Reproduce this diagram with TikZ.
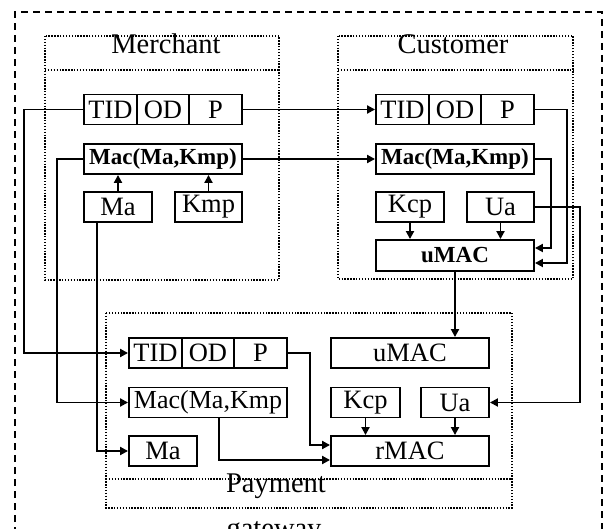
\documentclass[tikz,border=0pt]{standalone}
\usepackage{fontspec}
\setmainfont{Liberation Serif}
\usetikzlibrary{arrows.meta}
\tikzset{
  wire/.style={line width=1.9pt},
  arr/.style={wire, -{Triangle[length=8pt,width=8pt]}},
  blk/.style={draw, line width=1.9pt, inner sep=0pt, minimum height=30pt,
              font=\fontsize{26.5}{30}\selectfont},
  blkb/.style={blk, font=\bfseries\fontsize{23}{27}\selectfont},
  grp/.style={line width=1.4pt, dash pattern=on 1.4pt off 1.5pt},
  outerframe/.style={line width=1.8pt, dash pattern=on 7pt off 5pt},
  title/.style={inner sep=0pt, anchor=base, font=\fontsize{28.5}{32}\selectfont},
}
\begin{document}
\begin{tikzpicture}[x=1pt,y=-1pt]
\useasboundingbox (0,0) rectangle (608,529);
\clip (0,0) rectangle (608,529);

% outer system frame (continues below the page edge)
\draw[outerframe] (15,570) -- (15,12) -- (602,12) -- (602,570);

% party frames
\draw[grp] (45,36) rectangle (279,280);
\draw[grp] (45,70) -- (279,70);
\draw[grp] (338,36) rectangle (573,279);
\draw[grp] (338,70) -- (573,70);
\draw[grp] (106,313) rectangle (512,508);
\draw[grp] (106,479) -- (512,479);

\node[title] (tMer) at (166,53.5) {Merchant};
\node[title] (tCus) at (453,53.5) {Customer};
\node[title] (tPay) at (276,492) {Payment};
\node[title] (tGat) at (274,537) {gateway};

% Merchant
\node[blk, minimum width=53pt] (mTID) at (110.5,109.5) {TID};
\node[blk, minimum width=52pt] (mOD)  at (163,109.5) {OD};
\node[blk, minimum width=53pt] (mP)   at (215.5,109.5) {P};
\node[blkb, minimum width=158pt] (mMac) at (163,159) {Mac(Ma,Kmp)};
\node[blk, minimum width=68pt] (mMa)  at (118,207) {Ma};
\node[blk, minimum width=67pt] (mKmp) at (208.5,207) {Kmp};

% Customer
\node[blk, minimum width=53pt] (cTID) at (402.5,109.5) {TID};
\node[blk, minimum width=52pt] (cOD)  at (455,109.5) {OD};
\node[blk, minimum width=53pt] (cP)   at (507.5,109.5) {P};
\node[blkb, minimum width=158pt] (cMac) at (455,159) {Mac(Ma,Kmp)};
\node[blk, minimum width=68pt] (cKcp) at (410,207) {Kcp};
\node[blk, minimum width=67pt] (cUa)  at (500.5,207) {Ua};
\node[blkb, minimum width=158pt, minimum height=31pt] (cuMAC) at (455,255.5) {uMAC};

% Payment gateway
\node[blk, minimum width=53pt] (pTID) at (155.5,353) {TID};
\node[blk, minimum width=52pt] (pOD)  at (208,353) {OD};
\node[blk, minimum width=53pt] (pP)   at (260.5,353) {P};
\node[blk, minimum width=158pt, font=\fontsize{26}{30}\selectfont] (pMac) at (208,402.5) {Mac(Ma,Kmp};
\node[blk, minimum width=68pt] (pMa)  at (163,451) {Ma};
\node[blk, minimum width=158pt] (puMAC) at (410,353) {uMAC};
\node[blk, minimum width=69pt] (pKcp) at (365.5,402.5) {Kcp};
\node[blk, minimum width=68pt] (pUa)  at (455,402.5) {Ua};
\node[blk, minimum width=158pt] (prMAC) at (410,451) {rMAC};

% merchant internals
\draw[arr] (mMa.north) -- (mMa.north |- mMac.south);
\draw[arr] (mKmp.north) -- (mKmp.north |- mMac.south);

% merchant -> customer
\draw[arr] (mP.east) -- (cTID.west);
\draw[arr] (mMac.east) -- (cMac.west);

% customer internals
\draw[arr] (cKcp.south) -- (cKcp.south |- cuMAC.north);
\draw[arr] (cUa.south) -- (cUa.south |- cuMAC.north);
\draw[arr] (cMac.east) -| ([xshift=16pt,yshift=7.5pt]cuMAC.east) -- ([yshift=7.5pt]cuMAC.east);
\draw[arr] (cP.east) -| ([xshift=32pt,yshift=-7.5pt]cuMAC.east) -- ([yshift=-7.5pt]cuMAC.east);

% customer -> payment gateway
\draw[arr] (cuMAC.south) -- (cuMAC.south |- puMAC.north);
\draw[arr] (cUa.east) -- ++(45,0) |- (pUa.east);

% merchant -> payment gateway
\draw[arr] (mTID.west) -- ++(-59,0) |- (pTID.west);
\draw[arr] (mMac.west) -- ++(-26,0) |- (pMac.west);
\draw[arr] ([xshift=-21pt]mMa.south) |- (pMa.west);

% payment gateway internals
\draw[arr] (pKcp.south) -- (pKcp.south |- prMAC.north);
\draw[arr] (pUa.south) -- (pUa.south |- prMAC.north);
\draw[arr] (pP.east) -- ++(22,0) |- ([yshift=6pt]prMAC.west);
\draw[arr] ([xshift=11pt]pMac.south) |- ([yshift=-9pt]prMAC.west);
\end{tikzpicture}
\end{document}
